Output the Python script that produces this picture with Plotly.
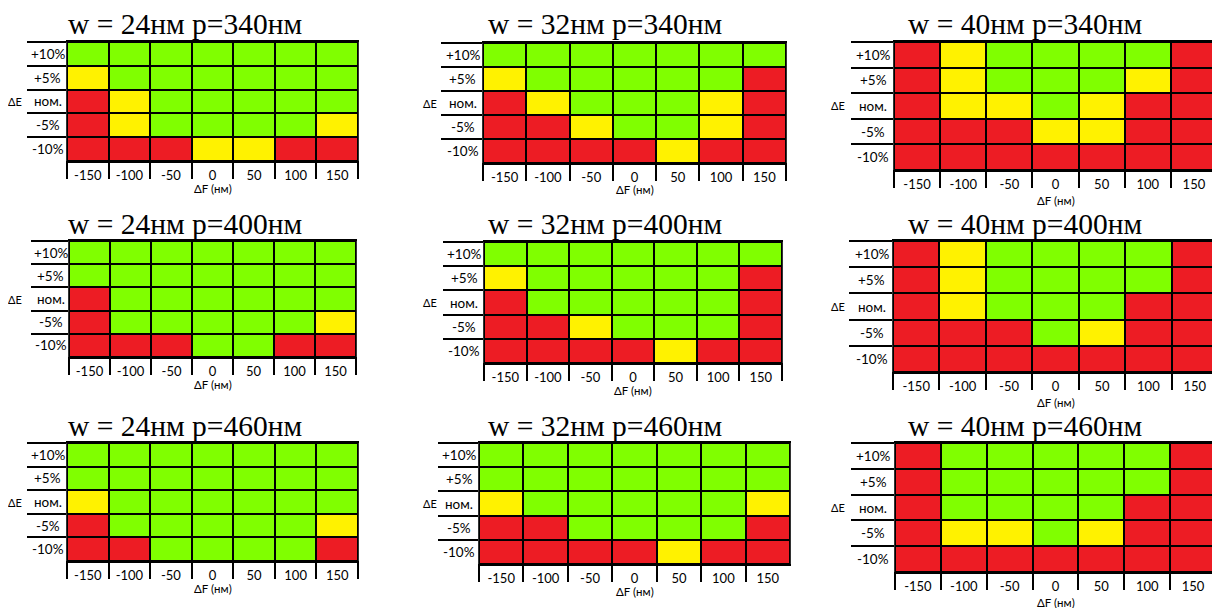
import plotly.graph_objects as go

# ---------------- data ----------------
F_LABELS = ["-150", "-100", "-50", "0", "50", "100", "150"]   # ΔF (нм)
E_LABELS = ["+10%", "+5%", "ном.", "-5%", "-10%"]             # ΔE
W_VALUES = [24, 32, 40]      # columns of panels
P_VALUES = [340, 400, 460]   # rows of panels

R, Y, G = 0, 1, 2  # red / yellow / green

status_w24_p340 = [
    [G, G, G, G, G, G, G],
    [Y, G, G, G, G, G, G],
    [R, Y, G, G, G, G, G],
    [R, Y, G, G, G, G, Y],
    [R, R, R, Y, Y, R, R],
]
status_w32_p340 = [
    [G, G, G, G, G, G, G],
    [Y, G, G, G, G, G, R],
    [R, Y, G, G, G, Y, R],
    [R, R, Y, G, G, Y, R],
    [R, R, R, R, Y, R, R],
]
status_w40_p340 = [
    [R, Y, G, G, G, G, R],
    [R, Y, G, G, G, Y, R],
    [R, Y, Y, G, Y, R, R],
    [R, R, R, Y, Y, R, R],
    [R, R, R, R, R, R, R],
]
status_w24_p400 = [
    [G, G, G, G, G, G, G],
    [G, G, G, G, G, G, G],
    [R, G, G, G, G, G, G],
    [R, G, G, G, G, G, Y],
    [R, R, R, G, G, R, R],
]
status_w32_p400 = [
    [G, G, G, G, G, G, G],
    [Y, G, G, G, G, G, R],
    [R, G, G, G, G, G, R],
    [R, R, Y, G, G, G, R],
    [R, R, R, R, Y, R, R],
]
status_w40_p400 = [
    [R, Y, G, G, G, G, R],
    [R, Y, G, G, G, G, R],
    [R, Y, G, G, G, R, R],
    [R, R, R, G, Y, R, R],
    [R, R, R, R, R, R, R],
]
status_w24_p460 = [
    [G, G, G, G, G, G, G],
    [G, G, G, G, G, G, G],
    [Y, G, G, G, G, G, G],
    [R, G, G, G, G, G, Y],
    [R, R, G, G, G, G, R],
]
status_w32_p460 = [
    [G, G, G, G, G, G, G],
    [G, G, G, G, G, G, G],
    [Y, G, G, G, G, G, Y],
    [R, R, G, G, G, G, R],
    [R, R, R, R, Y, R, R],
]
status_w40_p460 = [
    [R, G, G, G, G, G, R],
    [R, G, G, G, G, G, R],
    [R, G, G, G, G, R, R],
    [R, Y, Y, G, Y, R, R],
    [R, R, R, R, R, R, R],
]

STATUS = {
    (24, 340): status_w24_p340, (32, 340): status_w32_p340, (40, 340): status_w40_p340,
    (24, 400): status_w24_p400, (32, 400): status_w32_p400, (40, 400): status_w40_p400,
    (24, 460): status_w24_p460, (32, 460): status_w32_p460, (40, 460): status_w40_p460,
}

# ---------------- layout (page pixels) ----------------
PAGE_W, PAGE_H = 1220, 608
OFF = 8                       # default body margin of the html page
W, H = PAGE_W - OFF, PAGE_H - OFF


def px_x(x):
    return (x - OFF) / W


def px_y(y):
    return 1 - (y - OFF) / H


# (label-left, grid-left, grid-right, grid-top, grid-bottom)
BOXES = [
    [(28, 67, 358, 42, 161), (442, 483, 786, 43, 163), (852, 894, 1217, 42, 170)],
    [(32, 69, 356, 241, 357), (444, 484, 782, 242, 363), (850, 893, 1218, 241, 372)],
    [(28, 67, 358, 443, 561), (439, 479, 790, 443, 564), (852, 895, 1216, 443, 572)],
]
TITLE_X = [185, 605, 1025]
TITLE_Y = [24, 224, 426]
DE_X = [15, 430, 838]

C_RED, C_YEL, C_GRN = "#ed1c24", "#fff200", "#80ff00"
SANS = "Lato"
SERIF = "Liberation Serif"

fig = go.Figure()
annotations = []
layout_axes = {}

for i, p in enumerate(P_VALUES):
    for j, w in enumerate(W_VALUES):
        n = i * 3 + j + 1
        sfx = "" if n == 1 else str(n)
        lx, L, Rr, T, B = BOXES[i][j]
        fig.add_trace(go.Heatmap(
            x=F_LABELS, y=E_LABELS, z=STATUS[(w, p)],
            xaxis="x" + sfx, yaxis="y" + sfx,
            colorscale=[[0, C_RED], [0.5, C_YEL], [1, C_GRN]],
            zmin=0, zmax=2, showscale=False, xgap=2, ygap=2,
            hoverinfo="skip",
        ))
        layout_axes["xaxis" + sfx] = dict(
            domain=[px_x(L), min(px_x(Rr), 1)], anchor="y" + sfx, type="category",
            categoryorder="array", categoryarray=F_LABELS,
            tickson="boundaries", ticks="outside", ticklen=16, tickwidth=2,
            tickcolor="black", showline=True, linewidth=2, linecolor="black",
            mirror=True, showgrid=False, zeroline=False,
            tickfont=dict(family=SANS, size=13, color="black"),
            ticklabelstandoff=1, automargin=False, fixedrange=True,
        )
        layout_axes["yaxis" + sfx] = dict(
            domain=[px_y(B), px_y(T)], anchor="x" + sfx, type="category",
            categoryorder="array", categoryarray=E_LABELS, autorange="reversed",
            tickson="boundaries", ticks="outside", ticklen=L - lx, tickwidth=2,
            tickcolor="black", showticklabels=False, showline=True, linewidth=1,
            linecolor="#333333", mirror=True, showgrid=False, zeroline=False,
            automargin=False, fixedrange=True,
        )
        # row labels, centred in the label column
        for lab in E_LABELS:
            annotations.append(dict(
                text=lab, xref="x" + sfx + " domain", yref="y" + sfx,
                x=-(L - lx) / 2 / (Rr - L), y=lab, xanchor="center", yanchor="middle",
                showarrow=False, font=dict(family=SANS, size=13.5, color="black"),
            ))
        # ΔE axis label
        annotations.append(dict(
            text="ΔE", xref="paper", yref="y" + sfx, x=px_x(DE_X[j]), y=E_LABELS[2],
            xanchor="center", yanchor="middle", showarrow=False,
            font=dict(family=SANS, size=11, color="black"),
        ))
        # ΔF axis label
        annotations.append(dict(
            text="ΔF (нм)", xref="x" + sfx + " domain", yref="y" + sfx + " domain",
            x=0.5, y=-(27 if j < 2 else 30) / (B - T), xanchor="center", yanchor="middle",
            showarrow=False, font=dict(family=SANS, size=11.5, color="black"),
        ))
        # panel title
        annotations.append(dict(
            text=f"w = {w}нм p={p}нм", xref="paper", yref="paper",
            x=px_x(TITLE_X[j]), y=px_y(TITLE_Y[i]), xanchor="center", yanchor="middle",
            showarrow=False, font=dict(family=SERIF, size=29.5, color="black"),
        ))

fig.update_layout(
    width=W, height=H, margin=dict(l=0, r=0, t=0, b=0, autoexpand=False),
    paper_bgcolor="white", plot_bgcolor="black",
    showlegend=False, annotations=annotations, **layout_axes,
)

fig.write_html("out.html")
